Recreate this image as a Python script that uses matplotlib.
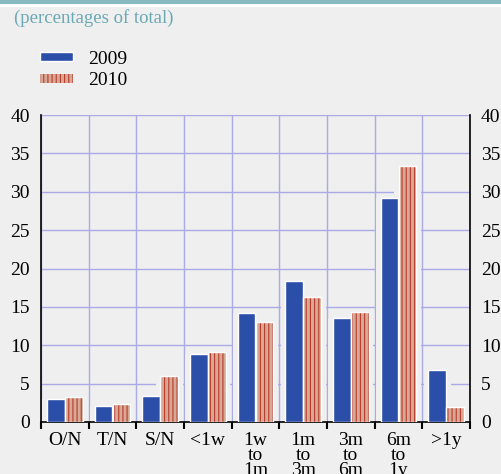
import matplotlib
matplotlib.use("Agg")
import matplotlib.pyplot as plt
import numpy as np
from matplotlib.patches import Rectangle

categories = ["O/N", "T/N", "S/N", "<1w", "1w\nto\n1m", "1m\nto\n3m", "3m\nto\n6m", "6m\nto\n1y", ">1y"]
v2009 = [3.0, 2.1, 3.4, 8.8, 14.2, 18.4, 13.5, 29.2, 6.8]
v2010 = [3.2, 2.3, 6.0, 9.1, 13.0, 16.3, 14.3, 33.3, 2.0]
yticks = [0, 5, 10, 15, 20, 25, 30, 35, 40]
title = "(percentages of total)"

BG = "#efefef"
BLUE = "#2b4ea8"
SALMON = "#d8a896"
RED = "#b83c2c"
GRID = "#a9aae6"
FS = 14

plt.rcParams['font.family'] = ['Liberation Serif', 'DejaVu Serif']
plt.rcParams['hatch.linewidth'] = 0.8

fig = plt.figure(figsize=(5.01, 4.74), dpi=100, facecolor=BG)
fig.patches.append(Rectangle((0, 1 - 4/474), 1, 4/474, transform=fig.transFigure,
                             facecolor="#8ab8c0", edgecolor="none"))
fig.patches.append(Rectangle((0, 1 - 7/474), 1, 3/474, transform=fig.transFigure,
                             facecolor="white", edgecolor="none"))

ax = fig.add_axes([41/501, 1 - 422/474, (470-41)/501, (422-115)/474])
ax.set_facecolor(BG)
n = len(categories)
x = np.arange(n)
w = 0.37
off = 0.19
# background halo around bars (grid lines stop short of the bars)
ax.bar(x - off, v2009, w + 0.2, color=BG, linewidth=0, zorder=2.5)
ax.bar(x + off, v2010, w + 0.2, color=BG, linewidth=0, zorder=2.5)
b1 = ax.bar(x - off, v2009, w, color=BLUE, edgecolor="white", linewidth=1, zorder=3)
b2 = ax.bar(x + off, v2010, w, color=SALMON, edgecolor=RED, linewidth=0, hatch="||||", zorder=3)
ax.bar(x + off, v2010, w, fill=False, edgecolor="white", linewidth=1, zorder=4)

ax.set_xlim(-0.5, n - 0.5)
ax.set_ylim(0, 40)
ax.set_yticks(yticks)
ax.tick_params(axis="y", length=0, labelsize=FS, pad=8, right=True, labelright=True)

ax.set_xticks(np.arange(n + 1) - 0.5)
ax.set_xticklabels([])
ax.set_xticks(x, minor=True)
ax.set_xticklabels(categories, minor=True, linespacing=0.85, va="top")
ax.tick_params(axis="x", which="major", direction="out", length=5, width=1.5)
ax.tick_params(axis="x", which="minor", length=0, labelsize=FS, pad=7)

ax.grid(True, which="major", color=GRID, linewidth=1, zorder=0)
ax.set_axisbelow(True)
for s in ["left", "right", "bottom"]:
    ax.spines[s].set_color("black")
    ax.spines[s].set_linewidth(1.2)
ax.spines["top"].set_visible(False)

fig.text(14/501, 1 - 18/474, title, color="#6aa8b4", fontsize=13.5, va="center", ha="left")

handles = [b1.patches[0], b2.patches[0]]
ax.legend(handles, ["2009", "2010"], loc="upper left", bbox_to_anchor=(22/501, 1 - 33/474),
          bbox_transform=fig.transFigure, frameon=False, fontsize=FS,
          handlelength=1.7, handleheight=0.36, handletextpad=0.8, labelspacing=0.25)

fig.savefig("out.png", dpi=100, facecolor=BG)
